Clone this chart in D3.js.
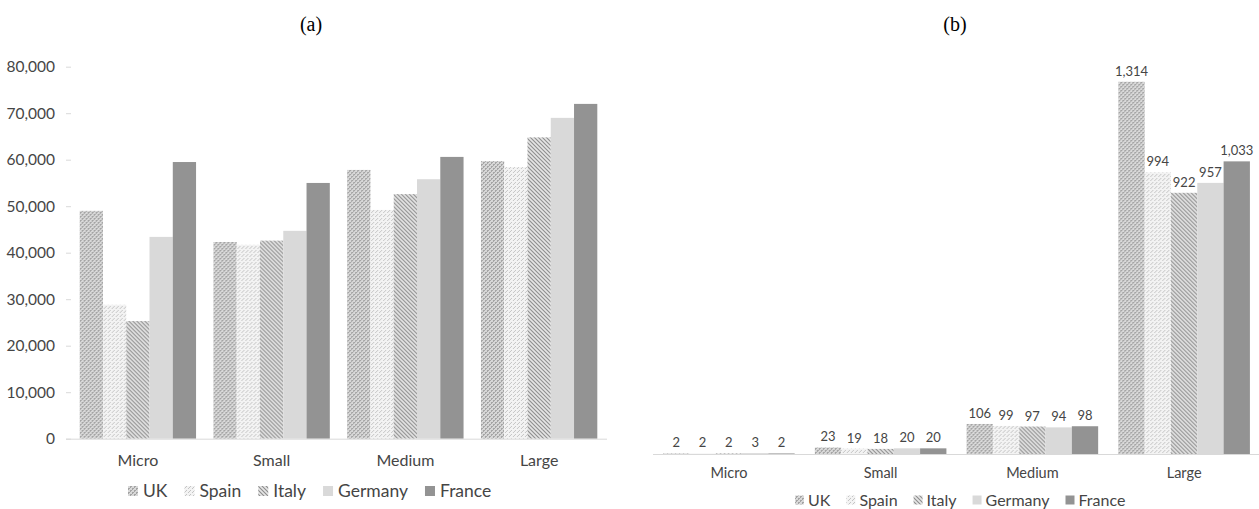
<!DOCTYPE html>
<html>
<head>
<meta charset="utf-8">
<script src="https://cdn.jsdelivr.net/npm/d3@7"></script>
<style>
  html, body { margin: 0; padding: 0; background: #fff; }
  svg { display: block; }
</style>
</head>
<body>
<svg id="chart" width="1259" height="509"></svg>
<script>
// ---------- DATA ----------
const categories = ["Micro", "Small", "Medium", "Large"];
const countries = ["UK", "Spain", "Italy", "Germany", "France"];

// Panel (a): values per category, in country order
const aUK      = [49000, 42300, 57800, 59700];
const aSpain   = [28800, 41700, 49200, 58400];
const aItaly   = [25300, 42600, 52600, 64800];
const aGermany = [43400, 44700, 55800, 69000];
const aFrance  = [59500, 55000, 60600, 72000];
const aTicks   = [0, 10000, 20000, 30000, 40000, 50000, 60000, 70000, 80000];

// Panel (b)
const bUK      = [2, 23, 106, 1314];
const bSpain   = [2, 19, 99, 994];
const bItaly   = [2, 18, 97, 922];
const bGermany = [3, 20, 94, 957];
const bFrance  = [2, 20, 98, 1033];

const titles = ["(a)", "(b)"];

// ---------- SETUP ----------
const svg = d3.select("#chart");
const defs = svg.append("defs");

function pixPattern(id, size, bg, pixels, color) {
  const p = defs.append("pattern").attr("id", id).attr("patternUnits", "userSpaceOnUse")
    .attr("width", size).attr("height", size);
  p.append("rect").attr("width", size).attr("height", size).attr("fill", bg);
  pixels.forEach(([x, y]) => p.append("rect").attr("x", x).attr("y", y).attr("width", 1).attr("height", 1).attr("fill", color));
}
// UK: fine dotted grid texture
pixPattern("pUK", 4, "#d8d8d8",
  [[0,0],[1,0],[0,1],[2,2],[3,2],[2,3]], "#a4a4a4");
// Spain: light diamond/dot texture
pixPattern("pES", 4, "#f3f3f3",
  [[0,0],[2,2],[1,3]], "#c4c4c4");
// Italy: diagonal stripes "\"
(function(){
  const p = defs.append("pattern").attr("id", "pIT").attr("patternUnits", "userSpaceOnUse")
    .attr("width", 4).attr("height", 4);
  p.append("rect").attr("width", 4).attr("height", 4).attr("fill", "#e6e6e6");
  p.append("path").attr("d", "M-1,-1 L5,5 M-1,3 L1,5 M3,-1 L5,1")
    .attr("stroke", "#8c8c8c").attr("stroke-width", 1.1);
})();

const fills = ["url(#pUK)", "url(#pES)", "url(#pIT)", "#d9d9d9", "#939393"];
const textColor = "#454545";
const sansFont = "Lato, 'Open Sans', sans-serif";

function seriesRows(arrs) {
  return categories.map((c, i) => ({ cat: c, vals: arrs.map((a, k) => ({ country: countries[k], v: a[i], k })) }));
}

function drawLegend(g, startX, y, fontSize, swatch, gapText, gapItem) {
  let x = startX;
  countries.forEach((c, k) => {
    g.append("rect").attr("x", x).attr("y", y - swatch / 2).attr("width", swatch).attr("height", swatch)
      .attr("fill", fills[k]);
    const t = g.append("text").attr("x", x + swatch + gapText).attr("y", y).attr("dy", "0.35em")
      .attr("font-family", sansFont).attr("font-size", fontSize).attr("fill", textColor).text(c);
    x += swatch + gapText + t.node().getComputedTextLength() + gapItem;
  });
}

// ---------- PANEL (a) ----------
(function(){
  const rows = seriesRows([aUK, aSpain, aItaly, aGermany, aFrance]);
  const x0 = d3.scaleBand().domain(categories).range([71, 606]).paddingInner(0.13).paddingOuter(0.065);
  const x1 = d3.scaleBand().domain(countries).range([0, x0.bandwidth()]);
  const y = d3.scaleLinear().domain([0, 80000]).range([438.7, 66.7]);

  const g = svg.append("g");

  svg.append("text").attr("x", 311).attr("y", 31).attr("text-anchor", "middle")
    .attr("font-family", "'Liberation Serif', 'DejaVu Serif', serif").attr("font-size", 20)
    .attr("fill", "#000").text(titles[0]);

  const ya = g.append("g").attr("transform", "translate(71,0)")
    .call(d3.axisLeft(y).tickValues(aTicks).tickSize(5).tickPadding(11).tickFormat(d3.format(",")));
  ya.select(".domain").remove();
  ya.selectAll(".tick line").attr("stroke", "#d9d9d9");
  ya.selectAll(".tick text").attr("font-family", sansFont).attr("font-size", 15.5).attr("fill", textColor);

  g.selectAll("g.grp").data(rows).join("g").attr("class", "grp")
    .attr("transform", d => `translate(${x0(d.cat)},0)`)
    .selectAll("rect").data(d => d.vals).join("rect")
      .attr("x", d => x1(d.country)).attr("width", x1.bandwidth())
      .attr("y", d => y(d.v)).attr("height", d => y(0) - y(d.v))
      .attr("fill", d => fills[d.k]);

  const xa = g.append("g").attr("transform", `translate(0,${y(0)})`)
    .call(d3.axisBottom(x0).tickSize(0).tickPadding(16));
  xa.select(".domain").attr("stroke", "#d9d9d9").attr("d", `M${x0.range()[0]-5},0.5H${x0.range()[1]+1}`);
  xa.selectAll(".tick text").attr("font-family", sansFont).attr("font-size", 16).attr("fill", textColor);

  drawLegend(g, 128, 491, 17.5, 10, 5, 17);
})();

// ---------- PANEL (b) ----------
(function(){
  const rows = seriesRows([bUK, bSpain, bItaly, bGermany, bFrance]);
  const x0 = d3.scaleBand().domain(categories).range([653, 1260]).paddingInner(0.133).paddingOuter(0.0665);
  const x1 = d3.scaleBand().domain(countries).range([0, x0.bandwidth()]);
  const y = d3.scaleLinear().domain([0, 1400]).range([454, 57.4]);

  const g = svg.append("g");

  svg.append("text").attr("x", 955).attr("y", 31).attr("text-anchor", "middle")
    .attr("font-family", "'Liberation Serif', 'DejaVu Serif', serif").attr("font-size", 20)
    .attr("fill", "#000").text(titles[1]);

  const grp = g.selectAll("g.grp").data(rows).join("g").attr("class", "grp")
    .attr("transform", d => `translate(${x0(d.cat)},0)`);
  grp.selectAll("rect").data(d => d.vals).join("rect")
      .attr("x", d => x1(d.country)).attr("width", x1.bandwidth())
      .attr("y", d => y(d.v)).attr("height", d => y(0) - y(d.v))
      .attr("fill", d => fills[d.k]);
  grp.selectAll("text.val").data(d => d.vals).join("text").attr("class", "val")
      .attr("x", d => x1(d.country) + x1.bandwidth() / 2).attr("y", d => y(d.v) - 6)
      .attr("text-anchor", "middle").attr("font-family", sansFont).attr("font-size", 13)
      .attr("fill", textColor).text(d => d3.format(",")(d.v));

  const xa = g.append("g").attr("transform", `translate(0,${y(0)})`)
    .call(d3.axisBottom(x0).tickSize(0).tickPadding(14));
  xa.select(".domain").attr("stroke", "#d9d9d9").attr("d", `M${x0.range()[0]},0.5H${x0.range()[1]}`);
  xa.selectAll(".tick text").attr("font-family", sansFont).attr("font-size", 14.5).attr("fill", textColor);

  drawLegend(g, 795, 500, 16, 9, 4, 16);
})();
</script>
</body>
</html>
